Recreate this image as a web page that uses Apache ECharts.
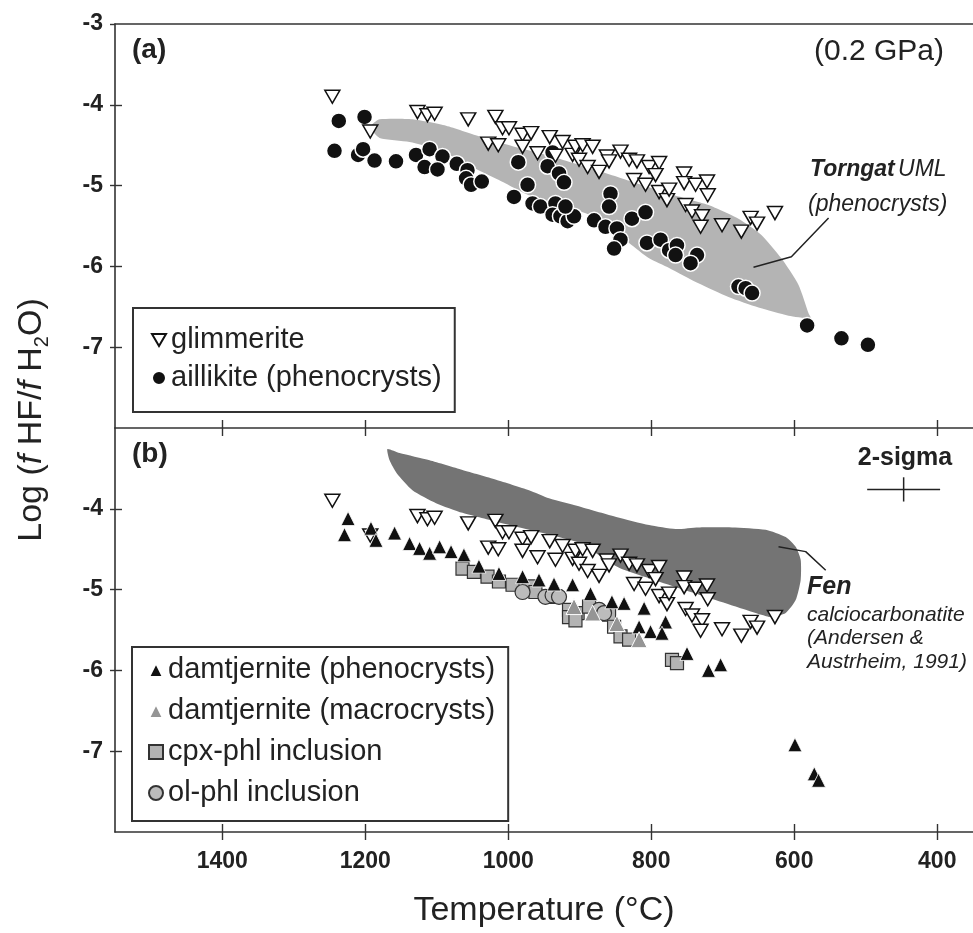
<!DOCTYPE html>
<html><head><meta charset="utf-8">
<script src="https://cdn.jsdelivr.net/npm/echarts@6/dist/echarts.min.js"></script>
<style>html,body{margin:0;padding:0;background:#fff}#c{width:973px;height:933px}</style>
</head><body><div id="c"></div>
<script>
// ---- tick labels ----
const tempTicks = [1400, 1200, 1000, 800, 600, 400];
const logTicksTop = [-3, -4, -5, -6, -7];
const logTicksBottom = [-4, -5, -6, -7];

// ---- panel (a) ----
const glimmerite = [[1246,-3.90],[1193,-4.33],[1127,-4.09],[1113,-4.13],[1103,-4.11],[1056,-4.18],[1018,-4.15],[1028,-4.48],[1014,-4.50],[1008,-4.29],[999,-4.29],[980,-4.37],[968,-4.35],[980,-4.52],[959,-4.60],[942,-4.40],[924,-4.46],[910,-4.62],[906,-4.52],[896,-4.50],[882,-4.52],[934,-4.63],[901,-4.68],[889,-4.77],[873,-4.83],[862,-4.64],[859,-4.70],[843,-4.58],[831,-4.68],[820,-4.70],[803,-4.77],[789,-4.72],[794,-4.87],[824,-4.93],[808,-4.99],[789,-5.08],[778,-5.18],[775,-5.05],[754,-4.85],[754,-4.97],[738,-4.99],[722,-4.95],[721,-5.12],[752,-5.24],[743,-5.32],[729,-5.38],[731,-5.51],[701,-5.49],[674,-5.57],[661,-5.40],[652,-5.47],[627,-5.34]];
const aillikite = [[1237,-4.20],[1201,-4.15],[1243,-4.57],[1210,-4.62],[1203,-4.55],[1187,-4.69],[1157,-4.70],[1129,-4.62],[1110,-4.55],[1092,-4.64],[1117,-4.77],[1099,-4.80],[1072,-4.73],[1057,-4.81],[1059,-4.91],[1052,-4.99],[1037,-4.95],[986,-4.71],[973,-4.99],[992,-5.14],[966,-5.22],[955,-5.26],[938,-4.59],[945,-4.76],[929,-4.85],[922,-4.96],[934,-5.22],[938,-5.36],[927,-5.38],[917,-5.44],[908,-5.38],[880,-5.43],[864,-5.51],[848,-5.53],[843,-5.67],[852,-5.78],[857,-5.10],[859,-5.26],[827,-5.41],[808,-5.33],[806,-5.71],[787,-5.67],[775,-5.80],[764,-5.74],[766,-5.86],[736,-5.86],[745,-5.96],[678,-6.25],[668,-6.27],[659,-6.33],[582,-6.73],[534,-6.89],[497,-6.97],[920,-5.26]];
const torngatField = [[1191,-4.25],[1180,-4.18],[1134,-4.18],[1087,-4.26],[1041,-4.39],[995,-4.51],[943,-4.63],[887,-4.78],[831,-4.94],[775,-5.10],[720,-5.24],[678,-5.41],[646,-5.61],[618,-5.90],[594,-6.23],[580,-6.58],[577,-6.64],[608,-6.61],[650,-6.51],[692,-6.38],[734,-6.21],[775,-6.02],[803,-5.90],[831,-5.71],[859,-5.52],[887,-5.36],[929,-5.24],[971,-5.12],[1013,-4.93],[1055,-4.75],[1096,-4.56],[1138,-4.46],[1180,-4.41],[1191,-4.31]];
const torngatLeader = [[657,-6.01],[604,-5.88],[552,-5.40]];

// ---- panel (b) ----
const damtjerniteP = [[1224,-4.12],[1229,-4.32],[1192,-4.24],[1185,-4.39],[1159,-4.30],[1138,-4.43],[1124,-4.49],[1110,-4.55],[1096,-4.47],[1080,-4.53],[1062,-4.57],[1041,-4.71],[1013,-4.80],[980,-4.84],[957,-4.88],[936,-4.93],[910,-4.94],[885,-5.05],[855,-5.15],[838,-5.17],[810,-5.23],[817,-5.46],[801,-5.52],[780,-5.40],[785,-5.54],[750,-5.79],[720,-6.00],[703,-5.93],[599,-6.92],[572,-7.28],[566,-7.36]];
const damtjerniteM = [[908,-5.21],[882,-5.29],[848,-5.42],[817,-5.62]];
const cpxPhl = [[1064,-4.74],[1048,-4.78],[1029,-4.84],[1013,-4.90],[994,-4.94],[971,-4.96],[962,-5.03],[943,-5.09],[915,-5.25],[903,-5.29],[887,-5.21],[915,-5.34],[906,-5.38],[859,-5.31],[852,-5.46],[843,-5.58],[831,-5.62],[771,-5.87],[764,-5.91]];
const olPhl = [[980,-5.03],[948,-5.09],[938,-5.07],[929,-5.09],[873,-5.25],[866,-5.29]];
const fenField = [[1169,-3.26],[1152,-3.31],[1110,-3.40],[1064,-3.52],[1017,-3.64],[971,-3.77],[943,-3.87],[897,-3.98],[849,-4.10],[803,-4.20],[766,-4.25],[734,-4.23],[687,-4.23],[640,-4.26],[612,-4.35],[598,-4.47],[591,-4.63],[591,-4.88],[598,-5.13],[612,-5.29],[632,-5.34],[646,-5.31],[678,-5.22],[720,-5.10],[762,-4.98],[803,-4.86],[845,-4.73],[901,-4.42],[943,-4.32],[971,-4.26],[1017,-4.16],[1064,-4.05],[1101,-3.93],[1134,-3.77],[1156,-3.56],[1166,-3.40]];
const fenLeader = [[622,-4.47],[584,-4.53],[556,-4.76]];
const sigmaCenter = [447, -3.76];
const sigmaErr = [51, 0.15];

const FONT = '"Liberation Sans", Arial, Helvetica, sans-serif';
const INK = '#222';
const AX = '#333';
const chart = echarts.init(document.getElementById('c'));

function polygon(name, data, xi, yi, fill) {
  return {
    type: 'custom', name, xAxisIndex: xi, yAxisIndex: yi, data, silent: true, z: 1,
    renderItem: (p, api) => {
      if (p.dataIndex !== 0) return null;
      return { type: 'polygon', shape: { points: data.map(d => api.coord(d)), smooth: 0.2 }, style: { fill, stroke: null } };
    }
  };
}
function leader(name, data, xi, yi) {
  return { type: 'line', name, xAxisIndex: xi, yAxisIndex: yi, data, symbol: 'none', silent: true, z: 3,
    lineStyle: { color: INK, width: 1.5 } };
}
const invTri = 'path://M0,0L20,0L10,17Z';
const plain = v => String(v);

const xBase = { type: 'value', min: 350, max: 1550, inverse: true, splitLine: { show: false } };
const yBase = { type: 'value', min: -8, max: -3, interval: 1, splitLine: { show: false } };
const lineOn = { show: true, lineStyle: { color: AX, width: 1.6 } };
const lineOff = { show: false };
const lbl = { fontFamily: FONT, fontWeight: 'bold', fontSize: 23, color: INK, formatter: plain };

chart.setOption({
  animation: false,
  backgroundColor: '#fff',
  grid: [
    { left: 115, top: 24, width: 860, height: 404 },
    { left: 115, top: 428, width: 860, height: 404 }
  ],
  xAxis: [
    Object.assign({}, xBase, { gridIndex: 0, position: 'bottom', axisLine: lineOn,
      axisTick: { show: true, inside: true, length: 8, customValues: tempTicks, lineStyle: { color: AX, width: 1.4 } },
      axisLabel: { show: false } }),
    Object.assign({}, xBase, { gridIndex: 0, position: 'top', axisLine: lineOn, axisTick: { show: false }, axisLabel: { show: false } }),
    Object.assign({}, xBase, { gridIndex: 1, position: 'bottom', axisLine: lineOn,
      axisTick: { show: true, inside: false, length: 8, customValues: tempTicks, lineStyle: { color: AX, width: 1.4 } },
      axisLabel: Object.assign({ show: true, margin: 18, customValues: tempTicks }, lbl),
      name: 'Temperature (°C)', nameLocation: 'middle', nameGap: 62,
      nameTextStyle: { fontFamily: FONT, fontSize: 34, color: INK } }),
    Object.assign({}, xBase, { gridIndex: 1, position: 'bottom', axisLine: lineOff,
      axisTick: { show: true, inside: true, length: 8, customValues: tempTicks, lineStyle: { color: AX, width: 1.4 } },
      axisLabel: { show: false } }),
    Object.assign({}, xBase, { gridIndex: 1, position: 'top', axisLine: lineOff,
      axisTick: { show: true, inside: true, length: 8, customValues: tempTicks, lineStyle: { color: AX, width: 1.4 } },
      axisLabel: { show: false } })
  ],
  yAxis: [
    Object.assign({}, yBase, { gridIndex: 0, position: 'left', axisLine: lineOn,
      axisTick: { show: true, inside: false, length: 5, customValues: logTicksTop, lineStyle: { color: AX, width: 1.4 } },
      axisLabel: Object.assign({ show: true, margin: 12, customValues: logTicksTop }, lbl) }),
    Object.assign({}, yBase, { gridIndex: 0, position: 'left', axisLine: lineOff,
      axisTick: { show: true, inside: true, length: 7, customValues: [-4, -5, -6, -7], lineStyle: { color: AX, width: 1.4 } },
      axisLabel: { show: false } }),
    Object.assign({}, yBase, { gridIndex: 1, position: 'left', axisLine: lineOn,
      axisTick: { show: true, inside: false, length: 5, customValues: logTicksBottom, lineStyle: { color: AX, width: 1.4 } },
      axisLabel: Object.assign({ show: true, margin: 12, customValues: logTicksBottom }, lbl) }),
    Object.assign({}, yBase, { gridIndex: 1, position: 'left', axisLine: lineOff,
      axisTick: { show: true, inside: true, length: 7, customValues: logTicksBottom, lineStyle: { color: AX, width: 1.4 } },
      axisLabel: { show: false } })
  ],
  legend: [
    { data: ['glimmerite', 'aillikite (phenocrysts)'], left: 133, top: 308, orient: 'vertical',
      padding: [16, 13, 18, 18], itemGap: 6, itemWidth: 14, itemHeight: 14, itemTextGap: 12,
      borderColor: '#333', borderWidth: 2, selectedMode: false,
      textStyle: { fontFamily: FONT, fontSize: 29, color: INK, lineHeight: 32 } },
    { data: ['damtjernite (phenocrysts)', 'damtjernite (macrocrysts)', 'cpx-phl inclusion', 'ol-phl inclusion'],
      left: 132, top: 647, orient: 'vertical',
      padding: [7, 13, 12, 16], itemGap: 9, itemWidth: 14, itemHeight: 14, itemTextGap: 10,
      borderColor: '#333', borderWidth: 2, selectedMode: false,
      textStyle: { fontFamily: FONT, fontSize: 29, color: INK, lineHeight: 32 } }
  ],
  series: [
    polygon('Torngat UML', torngatField, 0, 0, '#b4b4b4'),
    leader('Torngat leader', torngatLeader, 0, 0),
    { type: 'scatter', name: 'aillikite (phenocrysts)', xAxisIndex: 0, yAxisIndex: 0, data: aillikite,
      symbol: 'circle', symbolSize: 16, z: 4,
      itemStyle: { color: '#111', borderColor: '#fff', borderWidth: 1.5, opacity: 1 } },
    { type: 'scatter', name: 'glimmerite', xAxisIndex: 0, yAxisIndex: 0, data: glimmerite,
      symbol: invTri, symbolSize: [15, 13], z: 5,
      itemStyle: { color: '#fff', borderColor: '#111', borderWidth: 1.5, opacity: 1 } },

    polygon('Fen', fenField, 2, 2, '#747474'),
    leader('Fen leader', fenLeader, 2, 2),
    { type: 'scatter', name: 'glimmerite', xAxisIndex: 2, yAxisIndex: 2, data: glimmerite,
      symbol: invTri, symbolSize: [15, 13], z: 4,
      itemStyle: { color: '#fff', borderColor: '#111', borderWidth: 1.5, opacity: 1 } },
    { type: 'scatter', name: 'cpx-phl inclusion', xAxisIndex: 2, yAxisIndex: 2, data: cpxPhl,
      symbol: 'rect', symbolSize: 13, z: 5,
      itemStyle: { color: '#b3b3b3', borderColor: '#333', borderWidth: 1.2, opacity: 1 } },
    { type: 'scatter', name: 'ol-phl inclusion', xAxisIndex: 2, yAxisIndex: 2, data: olPhl,
      symbol: 'circle', symbolSize: 15, z: 5,
      itemStyle: { color: '#bcbcbc', borderColor: '#333', borderWidth: 1.2, opacity: 1 } },
    { type: 'scatter', name: 'damtjernite (phenocrysts)', xAxisIndex: 2, yAxisIndex: 2, data: damtjerniteP,
      symbol: 'triangle', symbolSize: 14, z: 6,
      itemStyle: { color: '#111', borderColor: '#fff', borderWidth: 0.8, opacity: 1 } },
    { type: 'scatter', name: 'damtjernite (macrocrysts)', xAxisIndex: 2, yAxisIndex: 2, data: damtjerniteM,
      symbol: 'triangle', symbolSize: 16, z: 7,
      itemStyle: { color: '#959595', borderColor: '#fff', borderWidth: 1, opacity: 1 } },
    { type: 'custom', name: '2-sigma', xAxisIndex: 2, yAxisIndex: 2, data: [sigmaCenter], silent: true, z: 3,
      renderItem: (p, api) => {
        const t = api.value(0), v = api.value(1);
        const a = api.coord([t + sigmaErr[0], v]), b = api.coord([t - sigmaErr[0], v]);
        const c = api.coord([t, v + sigmaErr[1]]), d = api.coord([t, v - sigmaErr[1]]);
        const st = { stroke: INK, lineWidth: 1.5 };
        return { type: 'group', children: [
          { type: 'line', shape: { x1: a[0], y1: a[1], x2: b[0], y2: b[1] }, style: st },
          { type: 'line', shape: { x1: c[0], y1: c[1], x2: d[0], y2: d[1] }, style: st }
        ] };
      } }
  ],
  graphic: [
    { type: 'text', x: 132, y: 50, style: { text: '(a)', font: 'bold 28px ' + FONT, fill: INK, align: 'left', verticalAlign: 'middle', textAlign: 'left', textVerticalAlign: 'middle' } },
    { type: 'text', x: 132, y: 454, style: { text: '(b)', font: 'bold 28px ' + FONT, fill: INK, align: 'left', verticalAlign: 'middle', textAlign: 'left', textVerticalAlign: 'middle' } },
    { type: 'text', x: 879, y: 52, style: { text: '(0.2 GPa)', font: '30px ' + FONT, fill: INK, align: 'center', verticalAlign: 'middle', textAlign: 'center', textVerticalAlign: 'middle' } },
    { type: 'text', x: 810, y: 170, style: { text: '{b|Torngat} {i|UML}', fill: INK, align: 'left', verticalAlign: 'middle', textAlign: 'left', textVerticalAlign: 'middle',
        rich: { b: { font: 'italic bold 23px ' + FONT, fill: INK }, i: { font: 'italic 23px ' + FONT, fill: INK } } } },
    { type: 'text', x: 808, y: 205, style: { text: '(phenocrysts)', font: 'italic 23px ' + FONT, fill: INK, align: 'left', verticalAlign: 'middle', textAlign: 'left', textVerticalAlign: 'middle' } },
    { type: 'text', x: 807, y: 587, style: { text: 'Fen', font: 'italic bold 25px ' + FONT, fill: INK, align: 'left', verticalAlign: 'middle', textAlign: 'left', textVerticalAlign: 'middle' } },
    { type: 'text', x: 807, y: 615, style: { text: 'calciocarbonatite', font: 'italic 21px ' + FONT, fill: INK, align: 'left', verticalAlign: 'middle', textAlign: 'left', textVerticalAlign: 'middle' } },
    { type: 'text', x: 807, y: 638, style: { text: '(Andersen &', font: 'italic 21px ' + FONT, fill: INK, align: 'left', verticalAlign: 'middle', textAlign: 'left', textVerticalAlign: 'middle' } },
    { type: 'text', x: 807, y: 662, style: { text: 'Austrheim, 1991)', font: 'italic 21px ' + FONT, fill: INK, align: 'left', verticalAlign: 'middle', textAlign: 'left', textVerticalAlign: 'middle' } },
    { type: 'text', x: 905, y: 458, style: { text: '2-sigma', font: 'bold 25px ' + FONT, fill: INK, align: 'center', verticalAlign: 'middle', textAlign: 'center', textVerticalAlign: 'middle' } },
    { type: 'text', x: 32, y: 420, rotation: Math.PI / 2,
      style: { text: '{a|Log (}{i|f}{a| HF/}{i|f}{a| H}{s|2}{a|O)}', align: 'center', verticalAlign: 'middle', textAlign: 'center', textVerticalAlign: 'middle', fill: INK,
        rich: { a: { font: '34px ' + FONT, fill: INK, lineHeight: 40 },
                i: { font: 'italic 34px ' + FONT, fill: INK, lineHeight: 40 },
                s: { font: '20px ' + FONT, fill: INK, lineHeight: 20, verticalAlign: 'bottom' } } } }
  ]
});
</script>
</body></html>
